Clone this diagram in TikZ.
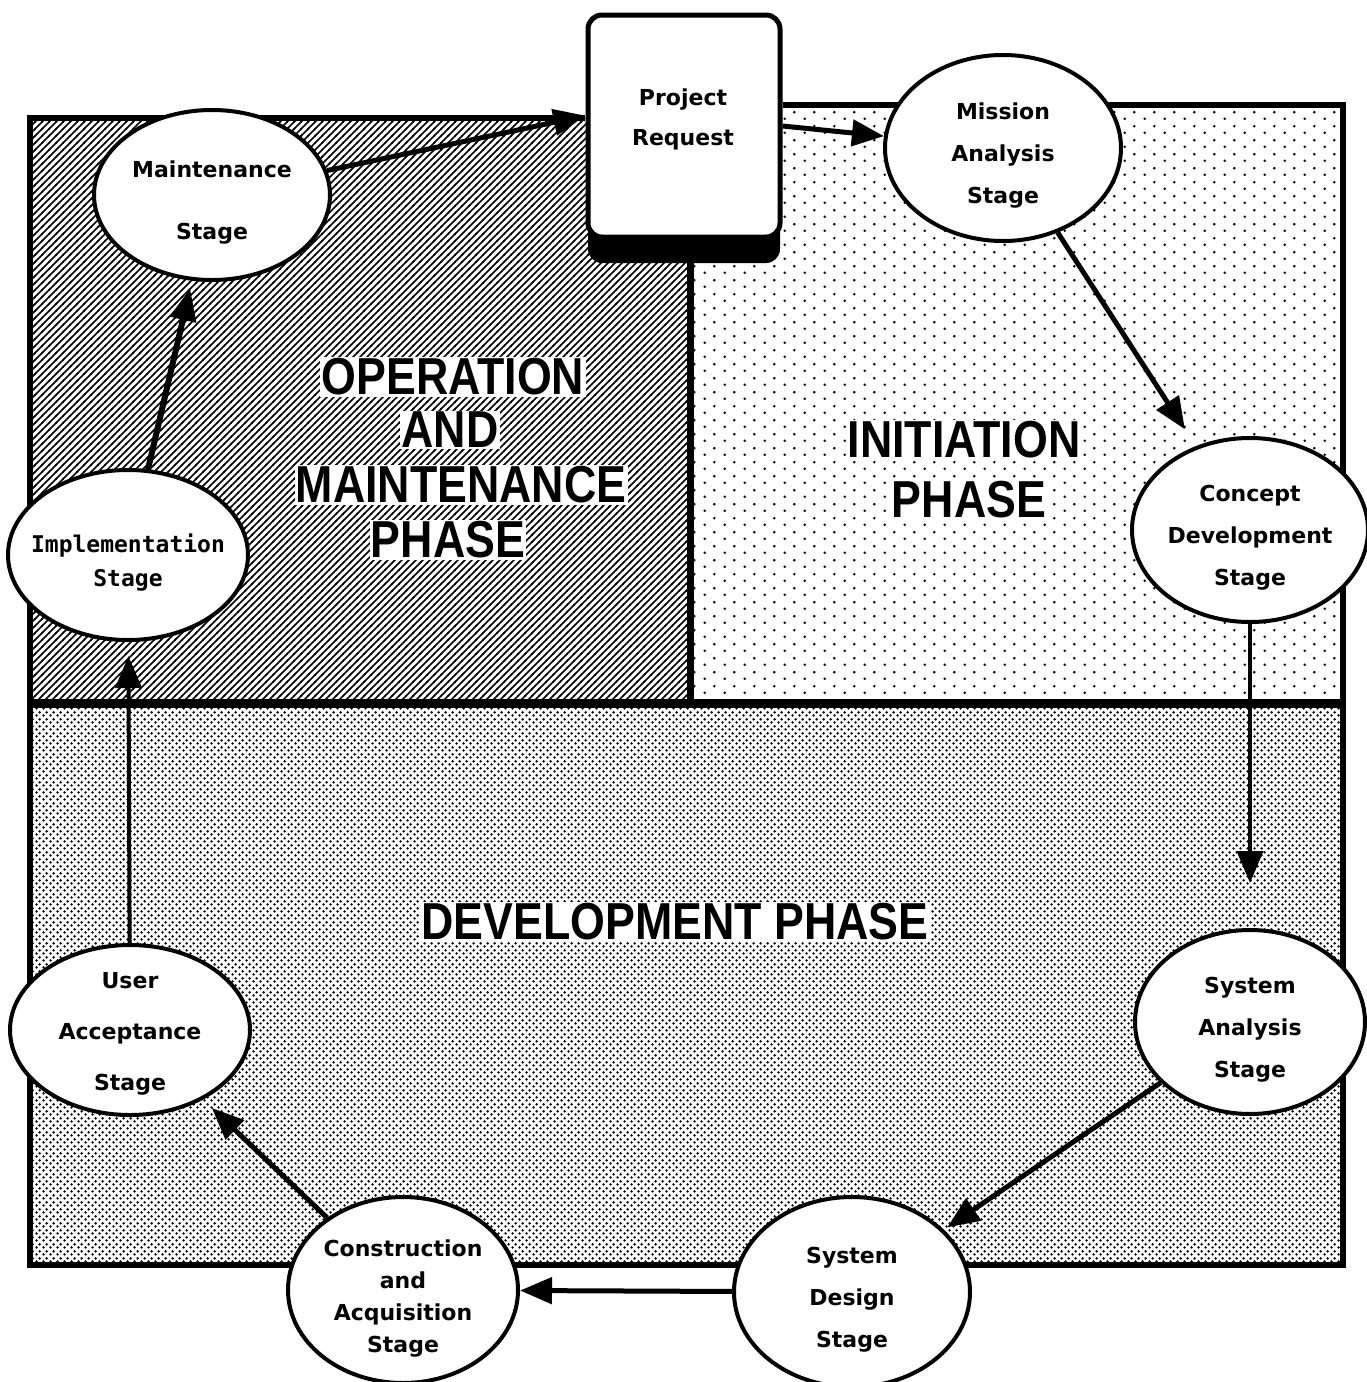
\documentclass[tikz,border=0pt]{standalone}
\usepackage{fontspec}
\setmainfont{DejaVu Sans}
\newfontfamily\titlefont{Liberation Sans}
\newfontfamily\monofont{DejaVu Sans Mono}
\usetikzlibrary{shapes.geometric,arrows.meta,patterns.meta,shadows}

% fill patterns of the three phases
\tikzdeclarepattern{
  name=opshatch, type=uncolored,
  bounding box={(-1pt,-1pt) and (8pt,8pt)},
  tile size={(7pt,7pt)},
  code={\draw[line width=1.5pt] (-1pt,-1pt) -- (8pt,8pt);}
}
\tikzdeclarepattern{
  name=initdots, type=uncolored,
  bounding box={(0pt,0pt) and (20pt,14pt)},
  tile size={(20pt,14pt)},
  code={\fill (5pt,3.5pt) circle (1.5pt); \fill (15pt,10.5pt) circle (1.5pt);}
}
\tikzdeclarepattern{
  name=devdots, type=uncolored,
  bounding box={(0pt,0pt) and (7pt,7pt)},
  tile size={(7pt,7pt)},
  code={\fill (1.75pt,1.75pt) circle (1.5pt); \fill (5.25pt,5.25pt) circle (1.5pt);}
}

\begin{document}
\begin{tikzpicture}[x=1pt,y=-1pt,
    stage/.style={ellipse,draw,fill=white,line width=4pt,inner sep=0pt},
    stagetxt/.style={align=center,yshift=-8pt,font=\bfseries\fontsize{22}{42}\selectfont},
    phase/.style={fill=white,inner sep=1.5pt,xscale=.86,
      font=\titlefont\bfseries\fontsize{52}{56}\selectfont},
    flow/.style={line width=5pt,-{Triangle[length=32pt,width=26pt]}},
    border/.style={line width=6pt}]
    \useasboundingbox (0,0) rectangle (1366,1382);

    % phase areas
    \fill[pattern=opshatch] (30,118) rectangle (690,703);
    \fill[pattern=initdots] (690,105) rectangle (1343,703);
    \fill[pattern=devdots] (30,703) rectangle (1343,1265);
    \draw[border] (585,118) -- (30,118) -- (30,1265) -- (1343,1265) -- (1343,105) -- (783,105);
    \draw[border,line width=7pt] (690,240) -- (690,703);
    \draw[border,line width=9pt] (30,703) -- (1343,703);

    % phase titles
    \node[phase] (opA) at (453,377) {OPERATION};
    \node[phase] (opB) at (450,430) {AND};
    \node[phase] (opC) at (461,485) {MAINTENANCE};
    \node[phase] (opD) at (448,540) {PHASE};
    \node[phase] (initA) at (964,440) {INITIATION};
    \node[phase] (initB) at (969,500) {PHASE};
    \node[phase] (devA) at (675,922) {DEVELOPMENT PHASE};

    % request and stages
    \node[draw,fill=white,line width=5pt,rounded corners=14pt,
      minimum width=192pt,minimum height=222pt,
      general shadow={fill=black,shadow yshift=-26pt}] (preq) at (684,126) {};
    \node[stagetxt,font=\bfseries\fontsize{22}{40}\selectfont] (preqtxt) at (683,111) {Project\\Request};

    \node[stage,minimum width=236pt,minimum height=170pt,
      label={[stagetxt]center:{Maintenance\\[20pt]Stage}}] (maint) at (212,195) {};
    \node[stage,minimum width=236pt,minimum height=186pt,
      label={[stagetxt]center:{Mission\\Analysis\\Stage}}] (mission) at (1003,148) {};
    \node[stage,minimum width=236pt,minimum height=184pt,
      label={[stagetxt]center:{Concept\\Development\\Stage}}] (concept) at (1250,530) {};
    \node[stage,minimum width=230pt,minimum height=184pt,
      label={[stagetxt]center:{System\\Analysis\\Stage}}] (sysan) at (1250,1022) {};
    \node[stage,minimum width=236pt,minimum height=190pt,
      label={[stagetxt]center:{System\\Design\\Stage}}] (sysdes) at (852,1292) {};
    \node[stage,minimum width=230pt,minimum height=186pt,
      label={[stagetxt,font=\bfseries\fontsize{22}{32}\selectfont]center:{Construction\\and\\Acquisition\\Stage}}] (constr) at (403,1290) {};
    \node[stage,minimum width=240pt,minimum height=170pt,
      label={[stagetxt,yshift=4pt]center:{User\\[9pt]Acceptance\\[9pt]Stage}}] (useracc) at (130,1030) {};
    \node[stage,minimum width=240pt,minimum height=170pt,
      label={[stagetxt,font=\monofont\bfseries\fontsize{23}{34}\selectfont]center:{Implementation\\Stage}}] (impl) at (128,555) {};

    % the cycle
    \draw[flow] (maint) -- (preq.174);
    \draw[flow] (preq.east) -- (mission);
    \draw[flow,shorten >=20pt] (mission) -- (concept);
    \draw[flow,line width=4pt,shorten >=45pt] (concept) -- (sysan);
    \draw[flow,shorten >=4pt] (sysan) -- (sysdes);
    \draw[flow] (sysdes) -- (constr);
    \draw[flow,shorten >=12pt] (constr) -- (useracc);
    \draw[flow,line width=4pt,shorten >=14pt] (useracc) -- (impl);
    \draw[flow,line width=6pt,shorten >=8pt] (impl) -- (maint);
\end{tikzpicture}
\end{document}
